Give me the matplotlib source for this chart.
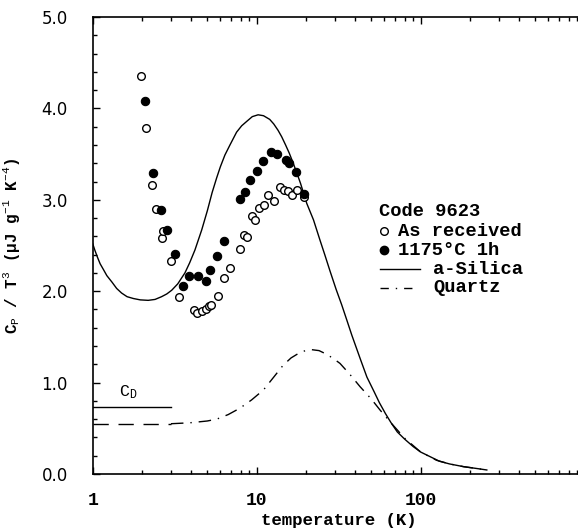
import matplotlib
matplotlib.use("Agg")
import matplotlib.pyplot as plt
from matplotlib.lines import Line2D

plt.rcParams["mathtext.fontset"] = "custom"
plt.rcParams["mathtext.rm"] = "Liberation Mono"
plt.rcParams["mathtext.it"] = "Liberation Mono"

# ---------------- data ----------------
as_recv_T = [1.96, 2.10, 2.31, 2.43, 2.63, 2.70, 3.02, 3.37, 4.13, 4.32, 4.66, 4.89,
             5.10, 5.29, 5.83, 6.29, 6.85, 7.88, 8.37, 8.77, 9.36, 9.80, 10.33, 11.08,
             11.77, 12.8, 13.93, 14.7, 15.45, 16.4, 17.5, 19.4]
as_recv_v = [4.35, 3.79, 3.16, 2.90, 2.58, 2.66, 2.33, 1.94, 1.79, 1.76, 1.78, 1.81,
             1.84, 1.85, 1.95, 2.14, 2.25, 2.46, 2.61, 2.59, 2.82, 2.78, 2.91, 2.94,
             3.05, 2.99, 3.14, 3.11, 3.10, 3.05, 3.11, 3.03]

annealed_T = [2.075, 2.32, 2.60, 2.83, 3.18, 3.55, 3.88, 4.40, 4.89, 5.17, 5.73, 6.35,
              7.91, 8.52, 9.14, 10.1, 10.97, 12.17, 13.24, 15.15, 15.8, 17.3, 19.4]
annealed_v = [4.08, 3.29, 2.89, 2.67, 2.41, 2.06, 2.17, 2.17, 2.11, 2.23, 2.39, 2.55,
              3.01, 3.08, 3.22, 3.31, 3.42, 3.52, 3.50, 3.43, 3.40, 3.30, 3.06]

silica_T = [1.0, 1.03, 1.07, 1.11, 1.16, 1.22, 1.31, 1.40, 1.50, 1.62, 1.77, 1.95, 2.18,
            2.40, 2.63, 2.83, 3.03, 3.3, 3.65, 3.9, 4.2, 4.62, 5.0, 5.35, 5.7, 6.0, 6.4,
            6.87, 7.54, 8.1, 8.72, 9.4, 10.2, 11.0, 12.0, 12.7, 13.5, 14.2, 15.0, 15.8,
            16.7, 17.6, 18.5, 20.2, 22.2, 24.3, 26.0, 28.0, 30.5, 33, 35.5, 38, 43, 47,
            52, 56, 61, 66, 72, 80, 90, 100, 114, 130, 150, 183, 220, 253]
silica_v = [2.52, 2.45, 2.37, 2.30, 2.24, 2.17, 2.10, 2.03, 1.98, 1.94, 1.92, 1.905, 1.90,
            1.91, 1.94, 1.97, 2.01, 2.08, 2.20, 2.31, 2.45, 2.67, 2.88, 3.08, 3.24, 3.36,
            3.49, 3.60, 3.74, 3.81, 3.86, 3.91, 3.93, 3.92, 3.88, 3.83, 3.76, 3.69, 3.60,
            3.51, 3.40, 3.29, 3.18, 2.96, 2.78, 2.56, 2.40, 2.22, 2.02, 1.85, 1.68, 1.52,
            1.25, 1.06, 0.90, 0.78, 0.66, 0.56, 0.46, 0.38, 0.30, 0.24, 0.19, 0.14, 0.11,
            0.08, 0.06, 0.044]

quartz_T = [3.0, 3.9, 5.0, 5.7, 6.7, 7.9, 9.3, 11.0, 12.7, 14.5, 16.2, 18, 19.8, 21.7, 24,
            26, 29, 32.2, 37, 42.7, 50, 56.5, 66.6, 80, 100, 125, 150, 183, 220, 253]
quartz_v = [0.55, 0.56, 0.58, 0.60, 0.65, 0.72, 0.81, 0.92, 1.06, 1.19, 1.27, 1.32, 1.35,
            1.36, 1.35, 1.32, 1.27, 1.21, 1.09, 0.955, 0.82, 0.70, 0.55, 0.39, 0.24,
            0.15, 0.11, 0.08, 0.06, 0.044]

quartz_low_T = [1.0, 3.0]
quartz_low_v = [0.55, 0.55]
cd_T = [1.0, 3.0]
cd_v = [0.73, 0.73]

xticks = [1, 10, 100, 1000]
xticklabels = ["1", "10", "100", ""]
yticks = [0.0, 1.0, 2.0, 3.0, 4.0, 5.0]
yticklabels = ["0.0", "1.0", "2.0", "3.0", "4.0", "5.0"]

legend_title = "Code 9623"
legend_labels = ["As received", "1175°C 1h", "a-Silica", "Quartz"]

# ---------------- figure ----------------
W, H = 578, 529
fig = plt.figure(figsize=(W / 100, H / 100), dpi=100)
fig.patch.set_facecolor("white")
left_px, right_px, top_px, bot_px = 92.7, 584.7, 17.0, 474.0
ax = fig.add_axes([left_px / W, 1 - bot_px / H, (right_px - left_px) / W, (bot_px - top_px) / H])

mono = "Liberation Mono"
ax.set_xscale("log")
ax.set_xlim(1, 1000)
ax.set_ylim(0, 5)

lw = 1.0
ax.plot(silica_T, silica_v, color="black", lw=lw)
ax.plot(quartz_T, quartz_v, color="black", lw=lw, linestyle=(0, (9, 5, 1, 5)))
ax.plot(quartz_low_T, quartz_low_v, color="black", lw=lw, linestyle=(0, (11, 7)))
ax.plot(cd_T, cd_v, color="black", lw=lw)
ax.text(1.64, 0.80, r"C$_{\mathrm{D}}$", fontsize=12, family=mono, ha="center", va="bottom")

ax.plot(as_recv_T, as_recv_v, linestyle="none", marker="o", ms=5.5, mfc="white",
        mec="black", mew=1.0)
ax.plot(annealed_T, annealed_v, linestyle="none", marker="o", ms=6.0, mfc="black",
        mec="black", mew=0.8)

# ticks
ax.set_xticks(xticks)
ax.set_xticklabels(xticklabels, family=mono, fontsize=13, fontweight="bold")
ax.set_yticks(yticks)
ax.set_yticklabels(yticklabels, family="DejaVu Sans", fontsize=12)
ax.set_yticks([i * 0.2 for i in range(26)], minor=True)
ax.tick_params(which="both", direction="in", top=True, right=True, width=1.0)
ax.tick_params(which="major", length=5)
ax.tick_params(which="minor", length=3)
ax.tick_params(axis="x", which="major", pad=13)
ax.tick_params(axis="y", which="major", pad=18)
for s in ax.spines.values():
    s.set_linewidth(1.2)

ax.set_xlabel("temperature (K)", family=mono, fontsize=12.5, fontweight="bold", labelpad=3)
ax.set_ylabel(r"C$_{\mathrm{P}}$ / T$^{3}$ (μJ g$^{-1}$ K$^{-4}$)", family=mono, fontsize=11.5,
              fontweight="bold")
ax.yaxis.set_label_coords((22 - left_px) / (right_px - left_px), 0.5)

# ---------------- legend (manual, as in the original) ----------------
def fx(px):
    return px / W

def fy(py):
    return 1 - py / H

fs_leg = 13.5
rows = [212, 231, 250, 269, 288]
tkw = dict(family=mono, fontsize=fs_leg, va="center", fontweight="bold")
fig.text(fx(379), fy(rows[0]), legend_title, **tkw)
fig.text(fx(398), fy(rows[1]), legend_labels[0], **tkw)
fig.text(fx(398), fy(rows[2]), legend_labels[1], **tkw)
fig.text(fx(433), fy(rows[3]), legend_labels[2], **tkw)
fig.text(fx(433), fy(rows[4]), legend_labels[3], **tkw)
fig.add_artist(Line2D([fx(384)], [fy(rows[1])], marker="o", ms=5.5, mfc="white", mec="black",
                      mew=1.0, linestyle="none"))
fig.add_artist(Line2D([fx(384)], [fy(rows[2])], marker="o", ms=6.0, mfc="black", mec="black",
                      linestyle="none"))
fig.add_artist(Line2D([fx(380), fx(420)], [fy(rows[3])] * 2, color="black", lw=lw))
fig.add_artist(Line2D([fx(380), fx(412)], [fy(rows[4])] * 2, color="black", lw=lw,
                      linestyle=(0, (6, 5, 1, 5))))

fig.savefig("out.png", dpi=100)
